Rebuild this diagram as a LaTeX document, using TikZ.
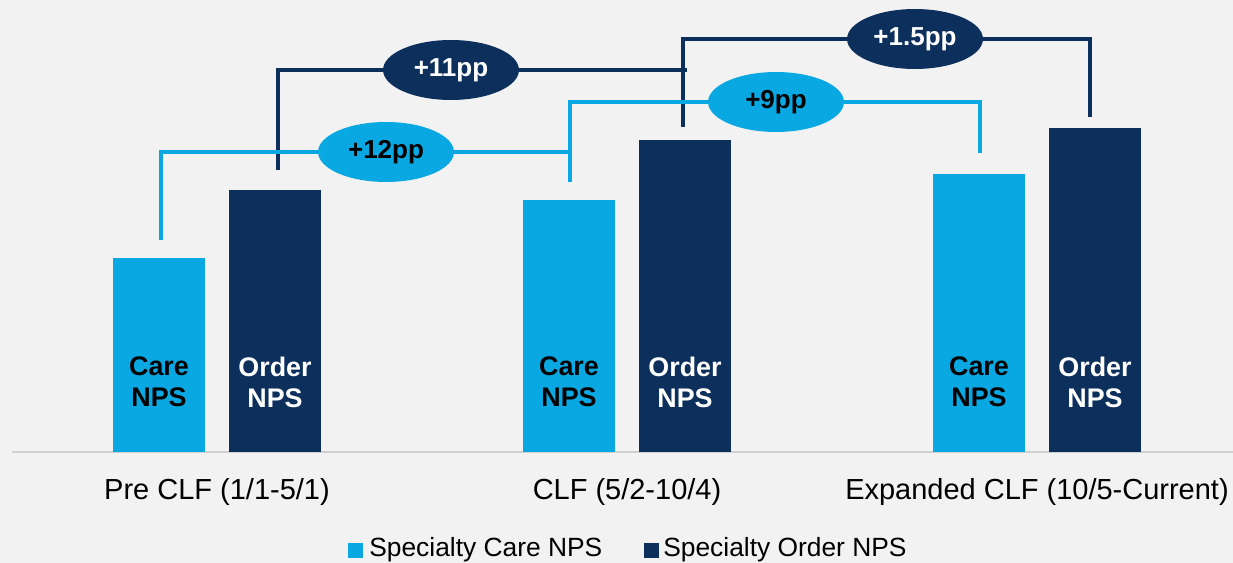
\documentclass[tikz,border=0pt]{standalone}
\usepackage{fontspec}
\setmainfont{Liberation Sans}
\usetikzlibrary{shapes.geometric,positioning}

\definecolor{carecol}{RGB}{10,168,226}
\definecolor{ordercol}{RGB}{12,47,92}
\definecolor{bgcol}{RGB}{242,242,242}
\definecolor{axiscol}{RGB}{208,208,208}

\pgfdeclarelayer{page}
\pgfdeclarelayer{lines}
\pgfsetlayers{page,lines,main}

\begin{document}
\begin{tikzpicture}[x=0.02cm, y=-0.02cm]
		\tikzstyle{bar}
		=[rectangle,anchor=south,minimum width=1.84cm,inner sep=0pt]
		\tikzstyle{care bar}
		=[bar, fill=carecol];
		\tikzstyle{order bar}
		=[bar, fill=ordercol];
		\tikzstyle{bar text}
		=[align=center,font=\fontsize{15.3}{17.6}\selectfont\bfseries]
		\tikzstyle{delta}
		=[ellipse,minimum width=2.72cm,minimum height=1.2cm,inner sep=0pt,
		font=\fontsize{14.8}{16}\selectfont\bfseries]
		\tikzstyle{care line}
		=[draw=carecol, line width=2.4pt]
		\tikzstyle{order line}
		=[draw=ordercol, line width=2.6pt]
		\tikzstyle{category}
		=[font=\fontsize{16.5}{19}\selectfont]
		\tikzstyle{legend box}
		=[rectangle,minimum size=0.3cm,inner sep=0pt]
		\tikzstyle{legend text}
		=[anchor=west,inner sep=0pt,font=\fontsize{15}{17}\selectfont]
		
		% Background of the page
		\begin{pgfonlayer}{page}
		\fill[bgcol] (0,0) rectangle (1233,563);
		\end{pgfonlayer}
		\useasboundingbox (0,0) rectangle (1233,563);
		
		% Draw the axis
		\coordinate (ax-l) at (12,452);
		\coordinate (ax-r) at (1233,452);
		\draw[axiscol, line width=1.2pt] (ax-l) -- (ax-r);
		
		% Draw the care bars
		\foreach \name / \x / \t in {1/159/258, 2/569/200, 3/979/174}
		\node[care bar, minimum height={(452-\t)*0.02cm}] (C-\name) at (\x,452) {};
		
		% Draw the order bars
		\foreach \name / \x / \t in {1/275/190, 2/685/140, 3/1095/128}
		\node[order bar, minimum height={(452-\t)*0.02cm}] (O-\name) at (\x,452) {};
		
		% Labels inside the bars
		\foreach \name in {1,2,3} {
		\node[bar text, text=black] (CT-\name) at (C-\name |- 0,382) {Care\\NPS};
		\node[bar text, text=white] (OT-\name) at (O-\name |- 0,382) {Order\\NPS};
		}
		
		% Annotate the periods
		\node[category] (G-1) at (217,492) {Pre CLF (1/1-5/1)};
		\node[category] (G-2) at (627,492) {CLF (5/2-10/4)};
		\node[category] (G-3) at (1037,492) {Expanded CLF (10/5-Current)};
		
		% Free ends of the brackets
		\coordinate (c1) at (161,240);
		\coordinate (c2a) at (570,152);
		\coordinate (c2b) at (570,182);
		\coordinate (c3) at (980,153);
		\coordinate (o1) at (278,170);
		\coordinate (o2a) at (687,70);
		\coordinate (o2b) at (683,127);
		\coordinate (o3) at (1090,117);
		
		% Difference bubbles
		\node[delta, fill=carecol, text=black] (L12) at (386,152) {+12pp};
		\node[delta, fill=ordercol, text=white] (D11) at (451,70) {+11pp};
		\node[delta, fill=carecol, text=black] (L9) at (776,102) {+9pp};
		\node[delta, fill=ordercol, text=white] (D15) at (915,39) {+1.5pp};
		
		% Connect the bars through the bubbles
		\begin{pgfonlayer}{lines}
		\draw[order line] (o1) |- (D11.west);
		\draw[order line] (D11.east) -- (o2a);
		\draw[order line] (o2b) |- (D15.west);
		\draw[order line] (D15.east) -| (o3);
		\draw[care line] (c1) |- (L12.west);
		\draw[care line] (L12.east) -- (c2a);
		\draw[care line] (c2b) |- (L9.west);
		\draw[care line] (L9.east) -| (c3);
		\end{pgfonlayer}
		
		% Legend
		\node[legend box, fill=carecol] (K-1) at (355,550) {};
		\node[legend text] (KT-1) at (369,550) {Specialty Care NPS};
		\node[legend box, fill=ordercol] (K-2) at (651,550) {};
		\node[legend text] (KT-2) at (663,550) {Specialty Order NPS};
	\end{tikzpicture}
\end{document}
